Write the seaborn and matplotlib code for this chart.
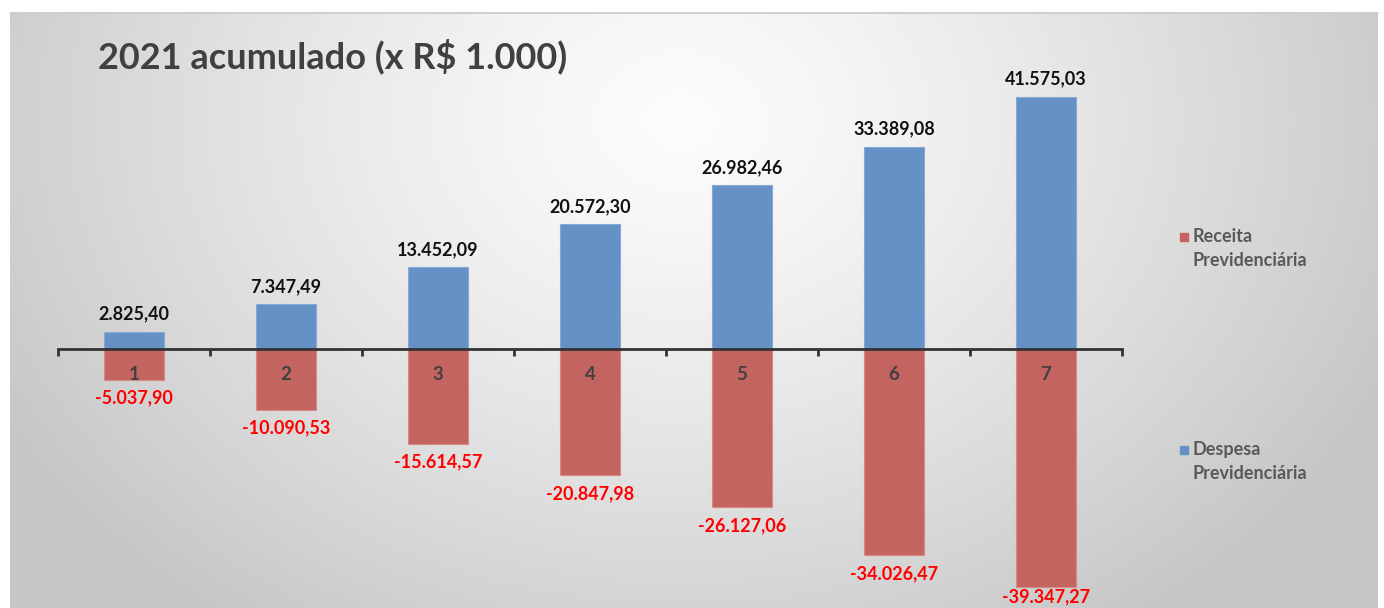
import numpy as np
import pandas as pd
import matplotlib
matplotlib.use("Agg")
import matplotlib.pyplot as plt
import seaborn as sns
from matplotlib.patches import Rectangle

# Data (x R$ 1.000, acumulado 2021)
meses = ["1", "2", "3", "4", "5", "6", "7"]
despesa = [2825.40, 7347.49, 13452.09, 20572.30, 26982.46, 33389.08, 41575.03]
receita = [-5037.90, -10090.53, -15614.57, -20847.98, -26127.06, -34026.47, -39347.27]
serie_receita = "Receita\nPrevidenciária"
serie_despesa = "Despesa\nPrevidenciária"
titulo = "2021 acumulado (x R$ 1.000)"

blue = "#6591c7"
red = "#c46461"

def fmt_br(v):
    s = f"{v:,.2f}"
    return s.replace(",", "X").replace(".", ",").replace("X", ".")

sns.set_theme(style="white")
plt.rcParams["font.family"] = ["Lato", "DejaVu Sans"]

W, H = 1384, 608
fig = plt.figure(figsize=(W / 100, H / 100), dpi=100)
fig.patch.set_facecolor("white")

# gradient background panel
bg = fig.add_axes([10 / W, 0, (1378 - 10) / W, (H - 13) / H])
yy, xx = np.mgrid[13:H, 10:1378]
r = np.sqrt(((xx - 680) / 760.0) ** 2 + ((yy - 120) / 600.0) ** 2)
g = np.clip(252 - 52 * r ** 1.3, 198, 252) / 255.0
bg.imshow(np.dstack([g, g, g]), aspect="auto", interpolation="bilinear")
bg.set_axis_off()
fig.add_artist(plt.Line2D([10 / W, 1378 / W], [(H - 13) / H] * 2, color="#c8c8c8", lw=1.2))

ax = fig.add_axes([0, 0, 1, 1])
ax.set_facecolor("none")

df = pd.DataFrame({"mes": meses, "despesa": despesa, "receita": receita})
sns.barplot(data=df, x="mes", y="despesa", color=blue, width=0.39, saturation=1,
            edgecolor="#86a9d6", linewidth=0.8, ax=ax)
sns.barplot(data=df, x="mes", y="receita", color=red, width=0.39, saturation=1,
            edgecolor="#d88986", linewidth=0.8, ax=ax)

ymin, ymax = -259 / 6.06 * 1000, 349 / 6.06 * 1000
ax.set_xlim(-134 / 152, (W - 134) / 152)
ax.set_ylim(ymin, ymax)

for i, (d, rc) in enumerate(zip(despesa, receita)):
    ax.annotate(fmt_br(d), (i, d), xytext=(0, 13), textcoords="offset points",
                ha="center", va="center", fontsize=13, fontweight="bold", color="#111111")
    # keep the lowest label inside the picture, as the original does
    room = (rc - ymin) / (ymax - ymin) * H * 0.72
    off = -min(13, room - 8)
    ax.annotate(fmt_br(rc), (i, rc), xytext=(0, off), textcoords="offset points",
                ha="center", va="center", fontsize=13, fontweight="bold", color="#ff0000")
    ax.annotate(meses[i], (i, 0), xytext=(0, -18), textcoords="offset points",
                ha="center", va="center", fontsize=13.5, fontweight="bold",
                color="#404040", zorder=5)

# category axis at zero
for s in ["top", "right", "left"]:
    ax.spines[s].set_visible(False)
ax.spines["bottom"].set_position(("data", 0))
ax.spines["bottom"].set_bounds(-0.5, len(meses) - 0.5)
ax.spines["bottom"].set_color("#333333")
ax.spines["bottom"].set_linewidth(2)
ax.set_xticks(np.arange(-0.5, len(meses)))
ax.set_xticklabels([])
ax.tick_params(axis="x", which="major", bottom=True, length=5, width=2,
               color="#333333", direction="out")
ax.set_yticks([])
ax.set_xlabel("")
ax.set_ylabel("")

fig.text(98 / W, 1 - 56 / H, titulo, ha="left", va="center", fontsize=26,
         fontweight="bold", color="#404040")

# legend
for lab, col, ytop in [(serie_receita, red, 237), (serie_despesa, blue, 450)]:
    fig.add_artist(Rectangle((1180 / W, 1 - (ytop + 4) / H), 8 / W, 8 / H,
                             transform=fig.transFigure, color=col))
    fig.text(1193 / W, 1 - (ytop - 9) / H, lab, ha="left", va="top", fontsize=13,
             fontweight="bold", color="#595959", linespacing=1.5)

fig.savefig("out.png", dpi=100)
